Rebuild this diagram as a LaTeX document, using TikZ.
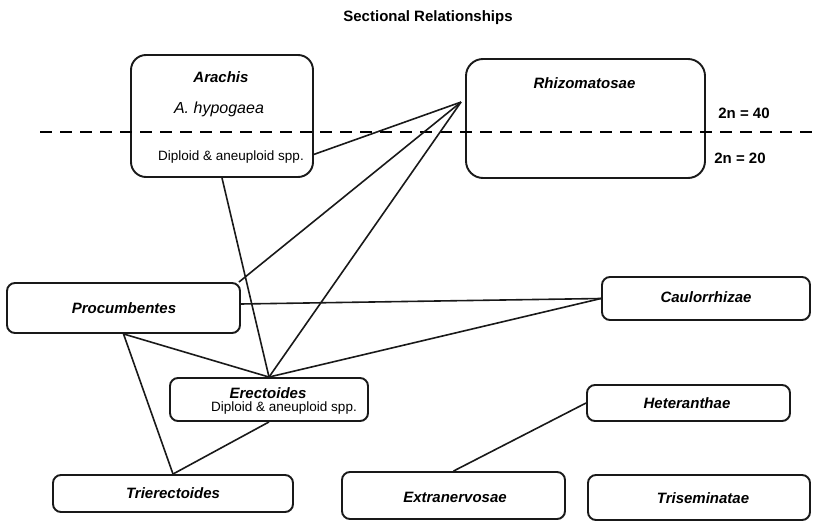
\documentclass[tikz,border=0pt]{standalone}
\usepackage{fontspec}
\setmainfont{Liberation Sans}
\usetikzlibrary{calc,shadows}
\begin{document}
\begin{tikzpicture}[x=1pt,y=-1pt,
  box/.style={draw=black!90, line width=1.9pt, rounded corners=#1, fill=white, inner sep=0pt,
    drop shadow={opacity=0.22, shadow xshift=0.8pt, shadow yshift=-0.8pt}},
  box/.default=8pt,
  taxon/.style={font=\fontsize{15}{18}\selectfont\bfseries\itshape, inner sep=0pt},
  note/.style={font=\fontsize{13.5}{16}\selectfont, inner sep=0pt},
  chrom/.style={font=\fontsize{15}{18}\selectfont\bfseries, inner sep=0pt},
  link/.style={line width=1.6pt, black!90}]
\useasboundingbox (0,0) rectangle (817,521);
% title
\node[font=\fontsize{15}{18}\selectfont\bfseries, inner sep=0pt] (title) at (428,18) {Sectional Relationships};
% boxes
\node[box=15pt, minimum width=182pt, minimum height=122pt] (arachis) at (222,116) {};
\node[box=17pt, minimum width=239pt, minimum height=119pt] (rhizo) at (585.5,118.5) {};
\node[box, minimum width=233pt, minimum height=50pt] (proc) at (123.5,308) {};
\node[box, minimum width=208pt, minimum height=43pt] (caul) at (706,298.5) {};
\node[box, minimum width=198pt, minimum height=43pt] (erect) at (269,399.5) {};
\node[box, minimum width=203pt, minimum height=36pt] (het) at (688.5,403) {};
\node[box, minimum width=240pt, minimum height=37pt] (tri) at (173,493.5) {};
\node[box, minimum width=223pt, minimum height=47pt] (extra) at (453.5,495.5) {};
\node[box, minimum width=222pt, minimum height=45pt] (trisem) at (699,497.5) {};
% dashed ploidy line
\coordinate (dashL) at (40,132);
\coordinate (dashR) at (817,132);
\draw[line width=2.8pt, dash pattern=on 12pt off 8pt] (dashL) -- (dashR);
% texts
\node[taxon] (tArachis) at (221,77) {Arachis};
\node[font=\fontsize{16}{19}\selectfont\itshape, inner sep=0pt] (tHyp) at (219,109) {A. hypogaea};
\node[note] (tDipA) at (231,157) {Diploid \& aneuploid spp.};
\node[taxon] (tRhizo) at (584.5,83) {Rhizomatosae};
\node[chrom] (t40) at (744,113) {2n = 40};
\node[chrom] (t20) at (740,158) {2n = 20};
\node[taxon] (tProc) at (124,308) {Procumbentes};
\node[taxon] (tCaul) at (706,297) {Caulorrhizae};
\node[taxon] (tErect) at (268,393) {Erectoides};
\node[note] (tDipE) at (284,408) {Diploid \& aneuploid spp.};
\node[taxon] (tHet) at (687,403) {Heteranthae};
\node[taxon] (tTri) at (173,493) {Trierectoides};
\node[taxon] (tExtra) at (455,497) {Extranervosae};
\node[taxon] (tTrisem) at (703,498) {Triseminatae};
% connectors
\coordinate (rhP) at ($(rhizo.north west)+(-4,44)$);
\coordinate (arR) at ($(arachis.north east)!0.81!(arachis.south east)$);
\coordinate (prTR) at ($(proc.north east)+(-2,0)$);
\coordinate (prR) at ($(proc.east)+(0,-4)$);
\draw[link] (arachis.south) -- (erect.north);
\draw[link] (arR) -- (rhP);
\draw[link] (prTR) -- (rhP);
\draw[link] (erect.north) -- (rhP);
\draw[link] (prR) -- (caul.west);
\draw[link] (erect.north) -- (caul.west);
\draw[link] (proc.south) -- (erect.north);
\draw[link] (proc.south) -- (tri.north);
\draw[link] (erect.south) -- (tri.north);
\draw[link] (het.west) -- (extra.north);
\end{tikzpicture}
\end{document}
